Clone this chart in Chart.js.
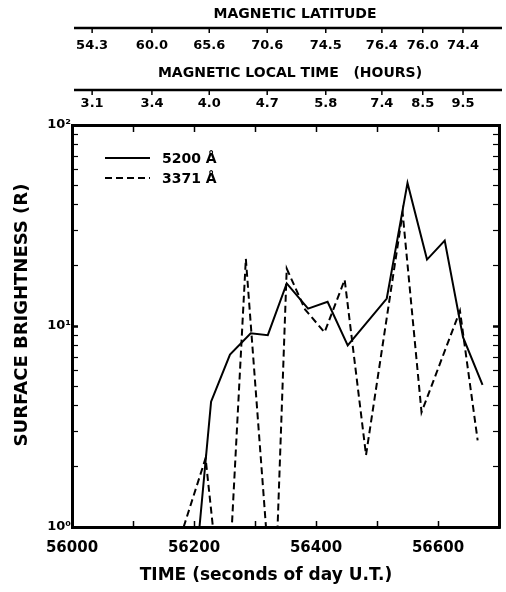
<!DOCTYPE html>
<html>
<head>
<meta charset="utf-8">
<script src="https://cdn.jsdelivr.net/npm/chart.js@4.4.0/dist/chart.umd.min.js"></script>
<style>
  html, body { margin: 0; padding: 0; background: #fff; }
</style>
</head>
<body>
<canvas id="chart" width="506" height="592"></canvas>
<script>
// 5200 Å (solid line), time in seconds of day, brightness in R
const solidTimes = [56209, 56228, 56259, 56293, 56321, 56352, 56387, 56419, 56452, 56516, 56550, 56582, 56611, 56641, 56673];
const solidValues = [1, 4.2, 7.2, 9.2, 9.0, 16.3, 12.2, 13.2, 8.0, 13.7, 51.5, 21.4, 26.6, 8.8, 5.1];

// 3371 Å (dashed line)
const dashTimes = [56183, 56219, 56231, 56262, 56285, 56318, 56337, 56352, 56382, 56414, 56447, 56482, 56542, 56573, 56636, 56665];
const dashValues = [1, 2.2, 1, 1, 21.6, 1, 1, 19.3, 12.1, 9.3, 17.0, 2.28, 36.6, 3.72, 11.9, 2.7];

// bottom axis ticks
const xTickValues = [56000, 56100, 56200, 56300, 56400, 56500, 56600, 56700];
const xTickLabels = ['56000', '', '56200', '', '56400', '', '56600', ''];

// y axis (log) decade labels
const yDecades = [1, 10, 100];
const yDecadeLabels = ['10⁰', '10¹', '10²'];

// top scales: magnetic latitude and magnetic local time at these times
const topTickTimes = [56033, 56131, 56225, 56320, 56416, 56508, 56575, 56641];
const latLabels = ['54.3', '60.0', '65.6', '70.6', '74.5', '76.4', '76.0', '74.4'];
const mltLabels = ['3.1', '3.4', '4.0', '4.7', '5.8', '7.4', '8.5', '9.5'];

const FONT = '"DejaVu Sans", sans-serif';

function toPoints(times, values) {
    return times.map((t, i) => ({ x: t, y: values[i] }));
}

// 위쪽 보조 축 두 개 + 축 제목 + 범례
const extras = {
    id: 'extras',
    afterDraw(chart) {
        const c = chart.ctx;
        const xs = chart.scales.x;
        c.save();
        c.fillStyle = '#000';
        c.strokeStyle = '#000';
        c.textAlign = 'center';
        c.textBaseline = 'middle';

        c.font = 'bold 14px ' + FONT;
        c.fillText('MAGNETIC LATITUDE', 295, 14);
        c.fillText('MAGNETIC LOCAL TIME   (HOURS)', 290, 73);

        const rows = [
            { y: 28, labelY: 46, labels: latLabels },
            { y: 90, labelY: 104, labels: mltLabels }
        ];
        rows.forEach(row => {
            c.lineWidth = 2.5;
            c.beginPath();
            c.moveTo(xs.left + 2, row.y);
            c.lineTo(xs.right + 3, row.y);
            c.stroke();
            c.lineWidth = 1.5;
            c.font = 'bold 13px ' + FONT;
            topTickTimes.forEach((t, i) => {
                const px = xs.getPixelForValue(t);
                c.beginPath();
                c.moveTo(px, row.y);
                c.lineTo(px, row.y + 5);
                c.stroke();
                c.fillText(row.labels[i], px, row.labelY);
            });
        });

        // axis titles
        c.font = 'bold 17px ' + FONT;
        c.fillText('TIME (seconds of day U.T.)', 266, 576);
        c.save();
        c.translate(22, 315);
        c.rotate(-Math.PI / 2);
        c.font = 'bold 18px ' + FONT;
        c.fillText('SURFACE BRIGHTNESS (R)', 0, 0);
        c.restore();

        // legend
        c.textAlign = 'left';
        c.font = 'bold 14px ' + FONT;
        chart.data.datasets.forEach((ds, i) => {
            const ly = 158 + i * 20;
            c.lineWidth = ds.borderWidth;
            c.setLineDash(ds.borderDash || []);
            c.beginPath();
            c.moveTo(105, ly);
            c.lineTo(150, ly);
            c.stroke();
            c.setLineDash([]);
            c.fillText(ds.label, 162, ly + 1);
        });
        c.restore();
    }
};

const yTicks = s => {
    const vals = [];
    for (let v = 1; v <= 10; v++) vals.push(v);
    for (let v = 20; v <= 100; v += 10) vals.push(v);
    s.ticks = vals.map(v => ({ value: v }));
};

const ctx = document.getElementById('chart').getContext('2d');
new Chart(ctx, {
    type: 'line',
    data: {
        datasets: [
            {
                label: '5200 Å',
                data: toPoints(solidTimes, solidValues),
                borderColor: '#000',
                borderWidth: 2,
                pointRadius: 0,
                tension: 0,
                fill: false
            },
            {
                label: '3371 Å',
                data: toPoints(dashTimes, dashValues),
                borderColor: '#000',
                borderWidth: 2,
                borderDash: [7, 4],
                pointRadius: 0,
                tension: 0,
                fill: false
            }
        ]
    },
    options: {
        responsive: false,
        animation: false,
        layout: { padding: 0 },
        plugins: {
            legend: { display: false },
            tooltip: { enabled: false }
        },
        scales: {
            x: {
                type: 'linear',
                position: 'bottom',
                min: 56000,
                max: 56700,
                afterBuildTicks: s => { s.ticks = xTickValues.map(v => ({ value: v })); },
                afterFit: s => { s.height = 65; s.paddingLeft = 0; s.paddingRight = 0; },
                ticks: {
                    autoSkip: false,
                    maxRotation: 0,
                    padding: 18,
                    color: '#000',
                    font: { family: FONT, weight: 'bold', size: 15 },
                    callback: v => xTickLabels[xTickValues.indexOf(v)] || ''
                },
                grid: { drawOnChartArea: false, tickLength: -6, tickWidth: 1.5, tickColor: '#000' },
                border: { color: '#000', width: 3 }
            },
            xTop: {
                type: 'linear',
                position: 'top',
                min: 56000,
                max: 56700,
                afterBuildTicks: s => { s.ticks = xTickValues.map(v => ({ value: v })); },
                afterFit: s => { s.height = 125; s.paddingLeft = 0; s.paddingRight = 0; },
                ticks: { callback: () => '' },
                grid: { drawOnChartArea: false, tickLength: -7, tickWidth: 1.5, tickColor: '#000' },
                border: { color: '#000', width: 3 }
            },
            y: {
                type: 'logarithmic',
                position: 'left',
                min: 1,
                max: 100,
                afterBuildTicks: yTicks,
                afterFit: s => { s.width = 72; },
                ticks: {
                    autoSkip: false,
                    padding: 7,
                    color: '#000',
                    font: { family: FONT, weight: 'bold', size: 13 },
                    callback: v => {
                        const k = yDecades.indexOf(v);
                        return k >= 0 ? yDecadeLabels[k] : '';
                    }
                },
                grid: {
                    drawOnChartArea: false,
                    tickLength: -6,
                    tickColor: '#000',
                    tickWidth: c => (yDecades.includes(c.tick && c.tick.value) ? 2.5 : 1.2)
                },
                border: { color: '#000', width: 3 }
            },
            yRight: {
                type: 'logarithmic',
                position: 'right',
                min: 1,
                max: 100,
                afterBuildTicks: yTicks,
                afterFit: s => { s.width = 7; },
                ticks: { callback: () => '' },
                grid: {
                    drawOnChartArea: false,
                    tickLength: -6,
                    tickColor: '#000',
                    tickWidth: c => (yDecades.includes(c.tick && c.tick.value) ? 2.5 : 1.2)
                },
                border: { color: '#000', width: 3 }
            }
        }
    },
    plugins: [extras]
});
</script>
</body>
</html>
